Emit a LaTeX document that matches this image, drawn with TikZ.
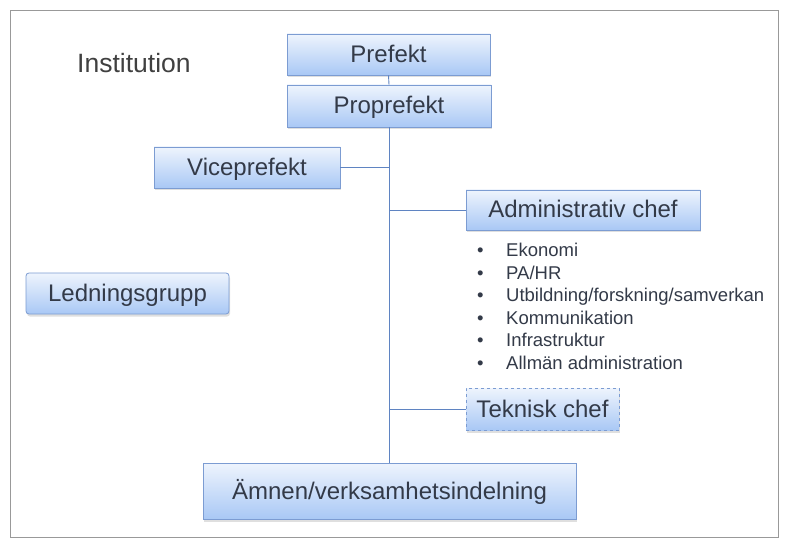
\documentclass[tikz,border=0pt]{standalone}
\usepackage{fontspec}
\setmainfont{Liberation Sans}
\usetikzlibrary{shadows}
\definecolor{boxtop}{HTML}{EEF4FD}
\definecolor{boxbot}{HTML}{A9C8F5}
\definecolor{boxline}{HTML}{7C9CD2}
\definecolor{txt}{HTML}{333A48}
\definecolor{conn}{HTML}{5F84C2}
\tikzset{
  orgbox/.style={draw=boxline, line width=0.8pt, top color=boxtop, bottom color=boxbot,
    text=txt, font=\fontsize{24}{28}\selectfont, inner sep=0pt,
    text height=17pt, text depth=1pt,
    drop shadow={opacity=0.25, shadow xshift=1pt, shadow yshift=-2.5pt}},
  conline/.style={draw=conn, line width=0.9pt},
  bullettxt/.style={text=txt, font=\fontsize{18.5}{22}\selectfont, inner sep=0pt, anchor=base west},
}
\begin{document}
\begin{tikzpicture}[x=1pt,y=-1pt]
\useasboundingbox (0,0) rectangle (789,545);
\fill[white] (0,0) rectangle (789,545);
\draw[gray!80, line width=0.8pt] (10,10) rectangle (778,537);
\node[text=black!75, font=\fontsize{26.5}{30}\selectfont, anchor=west, inner sep=0pt] (inst) at (77,63) {Institution};
\node[orgbox, minimum width=203pt, minimum height=41pt] (pre) at (388.5,54.5) {Prefekt};
\node[orgbox, minimum width=204pt, minimum height=42pt] (pro) at (389,106) {Proprefekt};
\node[orgbox, minimum width=186pt, minimum height=41pt] (vice) at (247,167.5) {Viceprefekt};
\node[orgbox, minimum width=234pt, minimum height=40pt] (adm) at (583,210) {Administrativ chef};
\node[orgbox, rounded corners=3pt, minimum width=203pt, minimum height=41pt] (led) at (127.5,293.5) {Ledningsgrupp};
\node[orgbox, dashed, minimum width=153pt, minimum height=42pt] (tek) at (542.5,409) {Teknisk chef};
\node[orgbox, minimum width=373pt, minimum height=56pt] (amn) at (389.5,491) {Ämnen/verksamhetsindelning};
\foreach \t [count=\i] in {Ekonomi, PA/HR, Utbildning/forskning/samverkan, Kommunikation, Infrastruktur, Allmän administration}{
  \node[bullettxt] (b\i) at (506,{257+22.4*(\i-1)}) {\t};
  \node[bullettxt] (d\i) at (477,{257+22.4*(\i-1)}) {•};
}
\draw[conline] (pre.south) -- (pro.north);
\draw[conline] (pro.south) -- (pro.south |- amn.north);
\draw[conline] (vice.east) -- (pro.south |- vice.east);
\draw[conline] (adm.west) -- (pro.south |- adm.west);
\draw[conline] (tek.west) -- (pro.south |- tek.west);
\end{tikzpicture}
\end{document}
